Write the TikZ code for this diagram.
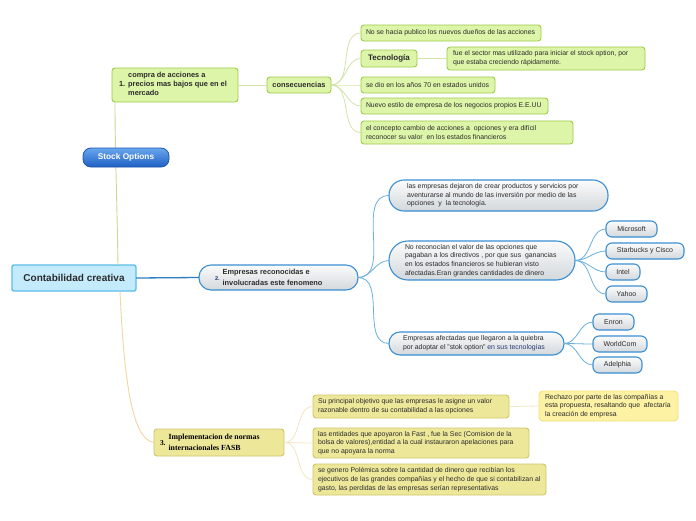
\documentclass[tikz,border=0pt]{standalone}
\usepackage{fontspec}
\setmainfont{Liberation Sans}
\newfontfamily\serifbold{Liberation Serif}
\definecolor{gfill}{HTML}{DDF5A8}
\definecolor{gborder}{HTML}{9ECB4A}
\definecolor{gline}{HTML}{D3E3A8}
\definecolor{bfill}{HTML}{C3EBFC}
\definecolor{bborder}{HTML}{5CBDEA}
\definecolor{pborder}{HTML}{3A8ED3}
\definecolor{ptop}{HTML}{FBFBFB}
\definecolor{pbot}{HTML}{D3D8DC}
\definecolor{bline}{HTML}{6AB0DC}
\definecolor{mline}{HTML}{2E7EBF}
\definecolor{yfill}{HTML}{EDE79A}
\definecolor{yborder}{HTML}{CFC66A}
\definecolor{rfill}{HTML}{FDF1A4}
\definecolor{rborder}{HTML}{F2E27E}
\definecolor{yline}{HTML}{F3E6C6}
\definecolor{tline}{HTML}{F0D7A2}
\definecolor{gtline}{HTML}{CAD893}
\definecolor{sotop}{HTML}{6AA7EE}
\definecolor{sobot}{HTML}{1E5FC4}
\definecolor{soborder}{HTML}{1D55B0}
\definecolor{txt}{HTML}{2B2B2B}
\definecolor{numblue}{HTML}{1A2F6A}
\definecolor{tblue}{HTML}{2A3A7A}
\newcommand\fsm{\fontsize{6.9}{8.7}\selectfont}
\newcommand\fbd{\fontsize{7.4}{9}\selectfont\bfseries}
\tikzset{
  every node/.style={inner sep=0pt, outer sep=0pt},
  gbox/.style={draw=gborder, fill=gfill, line width=0.9pt, rounded corners=3pt},
  bbox/.style={draw=pborder, line width=1.1pt, top color=ptop, bottom color=pbot},
  ybox/.style={draw=yborder, fill=yfill, line width=0.9pt, rounded corners=3pt},
  rbox/.style={draw=rborder, fill=rfill, line width=0.9pt, rounded corners=4pt},
  ttxt/.style={anchor=west, align=left, font=\fsm, text=txt},
  cname/.style={bbox, rounded corners=6pt, font=\fontsize{7}{8}\selectfont, text=txt},
  gconn/.style={draw=gline, line width=0.8pt},
  bconn/.style={draw=bline, line width=0.8pt},
  yconn/.style={draw=yline, line width=0.8pt},
}
\begin{document}
\begin{tikzpicture}[x=1pt,y=-1pt]
\useasboundingbox (0,0) rectangle (696,520);
\fill[white] (0,0) rectangle (696,520);

% main nodes
\node[draw=bborder, fill=bfill, line width=1.4pt, rounded corners=2pt, minimum width=124pt, minimum height=26pt, font=\fontsize{10}{12}\selectfont\bfseries, text=txt] (cc) at (74,278) {Contabilidad creativa};

\node[gbox, minimum width=126pt, minimum height=34pt] (n1) at (175,85) {};
\node[anchor=west, font=\fbd, text=txt] (n1t) at ([xshift=7pt]n1.west) {\begin{tabular}{@{}l@{\hspace{3pt}}l@{}}1. & \begin{tabular}[c]{@{}l@{}}compra de acciones a\\ precios mas bajos que en el\\ mercado\end{tabular}\end{tabular}};

\node[bbox, rounded corners=12pt, minimum width=159pt, minimum height=25pt] (n2) at (278.5,277.5) {};
\node[anchor=west, text=txt] (n2t) at ([xshift=16pt]n2.west) {\begin{tabular}{@{}l@{\hspace{3pt}}l@{}}{\fontsize{5.5}{6}\selectfont\bfseries\color{numblue}2.} & \begin{tabular}[c]{@{}l@{}}\fbd Empresas reconocidas e\\[-1pt] \fbd involucradas este fenomeno\end{tabular}\end{tabular}};

\node[ybox, minimum width=130pt, minimum height=27pt] (n3) at (219,442.5) {};
\node[anchor=west, text=black] (n3t) at ([xshift=6pt]n3.west) {\begin{tabular}{@{}l@{\hspace{3pt}}l@{}}{\serifbold\bfseries\fontsize{7.4}{9}\selectfont 3.} & \begin{tabular}[c]{@{}l@{}}\serifbold\bfseries\fontsize{7.8}{9}\selectfont Implementacion de normas\\[-1pt] \serifbold\bfseries\fontsize{7.8}{9}\selectfont internacionales FASB\end{tabular}\end{tabular}};

% trunk lines
\draw[draw=gtline, line width=0.9pt] (118,265) .. controls (117,200) and (115,150) .. (115,102);
\draw[draw=tline, line width=0.9pt] (120,291) .. controls (124,380) and (132,440) .. (n3.west);
\draw[draw=mline, line width=1.3pt] (cc.east) -- (n2.west);

% Stock Options
\node[draw=soborder, line width=0.8pt, top color=sotop, bottom color=sobot, rounded corners=8pt, minimum width=86pt, minimum height=19pt, font=\fontsize{8.3}{10}\selectfont\bfseries, text=white] (so) at (126,157.5) {Stock Options};

% branch 1
\node[gbox, minimum width=64pt, minimum height=16pt, font=\fbd, text=txt] (cons) at (299,85) {consecuencias};
\draw[gconn] (n1.east) -- (cons.west);

\node[gbox, minimum width=180pt, minimum height=16pt] (c1) at (451,33) {};
\node[ttxt] (c1t) at ([xshift=5pt]c1.west) {No se hacia publico los nuevos dueños de las acciones};
\node[gbox, minimum width=56pt, minimum height=17pt, font=\fontsize{8}{9}\selectfont\bfseries, text=txt] (tec) at (389,58.5) {Tecnología};
\node[gbox, minimum width=198pt, minimum height=23pt] (fue) at (546,58.5) {};
\node[ttxt] (fuet) at ([xshift=6pt]fue.west) {fue el sector mas utilizado para iniciar el stock option, por\\ que estaba creciendo rápidamente.};
\node[gbox, minimum width=134pt, minimum height=16pt] (c3) at (428,85) {};
\node[ttxt] (c3t) at ([xshift=5pt]c3.west) {se dio en los años 70 en estados unidos};
\node[gbox, minimum width=187pt, minimum height=16pt] (c4) at (454.5,106) {};
\node[ttxt] (c4t) at ([xshift=5pt]c4.west) {Nuevo estilo de empresa de los negocios propios E.E.UU};
\node[gbox, minimum width=212pt, minimum height=23pt] (c5) at (467,132.5) {};
\node[ttxt] (c5t) at ([xshift=5pt]c5.west) {el concepto cambio de acciones a\ \ opciones y era difícil\\ reconocer su valor\ \ en los estados financieros};

\foreach \t in {c1,tec,c3,c4,c5}{\draw[gconn] (cons.east) to[out=0,in=180] (\t.west);}
\draw[gconn] (tec.east) -- (fue.west);

% branch 2
\node[bbox, rounded corners=15pt, minimum width=219pt, minimum height=31pt] (e1) at (498.5,195.5) {};
\node[ttxt] (e1t) at ([xshift=18pt]e1.west) {las empresas dejaron de crear productos y servicios por\\ aventurarse al mundo de las inversión por medio de las\\ opciones\ \ y\ \ la tecnología.};
\node[bbox, rounded corners=19pt, minimum width=186pt, minimum height=39pt] (e2) at (482,260.5) {};
\node[ttxt] (e2t) at ([xshift=16pt]e2.west) {No reconocían el valor de las opciones que\\ pagaban a los directivos , por que sus\ \ ganancias\\ en los estados financieros se hubieran visto\\ afectadas.Eran grandes cantidades de dinero};
\node[bbox, rounded corners=11pt, minimum width=175pt, minimum height=23pt] (e3) at (476.5,343.5) {};
\node[ttxt] (e3t) at ([xshift=14pt]e3.west) {Empresas afectadas que llegaron a la quiebra\\ por adoptar el "stok option" {\color{tblue}en sus tecnologías}};

\foreach \t in {e1,e2,e3}{\draw[bconn] (n2.east) to[out=0,in=180] (\t.west);}

\node[cname, minimum width=51pt, minimum height=16pt] (ms) at (631.5,229) {Microsoft};
\node[cname, minimum width=78pt, minimum height=16pt] (sb) at (645,251) {Starbucks y Cisco};
\node[cname, minimum width=34pt, minimum height=16pt] (it) at (623,272) {Intel};
\node[cname, minimum width=41pt, minimum height=16pt] (ya) at (626.5,294) {Yahoo};
\foreach \t in {ms,sb,it,ya}{\draw[bconn] (e2.east) to[out=0,in=180] (\t.west);}

\node[cname, minimum width=41pt, minimum height=16pt] (en) at (613.5,322) {Enron};
\node[cname, minimum width=54pt, minimum height=16pt] (wc) at (620,344) {WorldCom};
\node[cname, minimum width=49pt, minimum height=16pt] (ad) at (617.5,365) {Adelphia};
\foreach \t in {en,wc,ad}{\draw[bconn] (e3.east) to[out=0,in=180] (\t.west);}

% branch 3
\node[ybox, minimum width=196pt, minimum height=23pt] (f1) at (411,406.5) {};
\node[ttxt] (f1t) at ([xshift=5pt]f1.west) {Su principal objetivo que las empresas le asigne un valor\\ razonable dentro de su contabilidad a las opciones};
\node[ybox, minimum width=216pt, minimum height=30pt] (f2) at (421,443) {};
\node[ttxt] (f2t) at ([xshift=5pt]f2.west) {las entidades que apoyaron la Fast , fue la Sec (Comision de la\\ bolsa de valores),entidad a la cual instauraron apelaciones para\\ que no apoyara la norma};
\node[ybox, minimum width=233pt, minimum height=31pt] (f3) at (429.5,479.5) {};
\node[ttxt] (f3t) at ([xshift=5pt]f3.west) {se genero Polémica sobre la cantidad de dinero que recibían los\\ ejecutivos de las grandes compañías y el hecho de que si contabilizan al\\ gasto, las perdidas de las empresas serían representativas};
\node[rbox, minimum width=139pt, minimum height=30pt] (rz) at (608.5,406) {};
\node[ttxt] (rzt) at ([xshift=6pt]rz.west) {Rechazo por parte de las compañías a\\ esta propuesta, resaltando que\ \ afectaría\\ la creación de empresa};

\foreach \t in {f1,f2,f3}{\draw[yconn] (n3.east) to[out=0,in=180] (\t.west);}
\draw[yconn] (f1.east) -- (rz.west);
\end{tikzpicture}
\end{document}
